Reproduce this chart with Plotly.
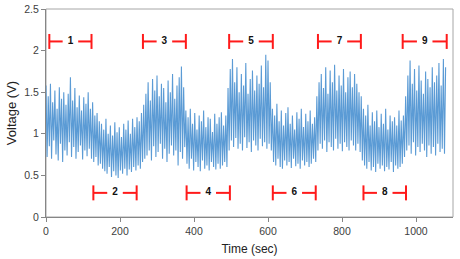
import plotly.graph_objects as go

# ---------------- data ----------------
sample_interval_s = 3
voltage = [
    # phase 1
    1.58, 0.72, 1.45, 0.85, 1.60, 0.70, 1.38, 0.92, 1.52, 0.75,
    1.30, 0.68, 1.56, 0.88, 1.42, 0.66, 1.50, 0.80, 1.35, 0.74,
    1.48, 0.90, 1.68, 0.72, 1.40, 0.84, 1.55, 0.70, 1.32, 0.78,
    1.46, 0.86, 1.28, 0.69, 1.44, 0.80, 1.36, 0.73, 1.50, 0.82,
    1.30, 0.70, 1.38, 0.66, 1.22, 0.72, 1.25, 0.62, 1.15, 0.64,
    # phase 2
    1.12, 0.58, 1.05, 0.55, 1.18, 0.52, 1.00, 0.60, 1.10, 0.48,
    0.98, 0.55, 1.14, 0.50, 1.02, 0.47, 1.08, 0.56, 0.96, 0.52,
    1.12, 0.58, 1.05, 0.50, 1.16, 0.57, 1.00, 0.54, 1.18, 0.60,
    1.08, 0.56, 1.20, 0.62, 1.15, 0.58,
    1.25, 0.66, 1.35, 0.70,
    # phase 3
    1.48, 0.74, 1.62, 0.80, 1.40, 0.68, 1.66, 0.85, 1.52, 0.72,
    1.70, 0.78, 1.45, 0.88, 1.60, 0.70, 1.55, 0.82, 1.38, 0.66,
    1.64, 0.76, 1.50, 0.86, 1.72, 0.74, 1.42, 0.80, 1.58, 0.62,
    1.68, 0.78, 1.81, 0.70, 1.56, 0.84,
    # phase 4
    1.28, 0.64, 1.20, 0.58, 1.30, 0.70, 1.12, 0.56, 1.25, 0.66,
    1.05, 0.60, 1.22, 0.55, 1.15, 0.68, 1.28, 0.58, 1.08, 0.62,
    1.20, 0.56, 1.18, 0.66, 1.02, 0.60, 1.24, 0.57, 1.12, 0.64,
    1.20, 0.58, 1.26, 0.62, 1.10, 0.66, 1.22, 0.60,
    # phase 5
    1.55, 0.80, 1.78, 0.92, 1.90, 0.84, 1.62, 0.95, 1.80, 0.82,
    1.50, 0.88, 1.72, 0.80, 1.58, 0.96, 1.85, 0.83, 1.48, 0.90,
    1.66, 0.78, 1.76, 0.92, 1.52, 0.86, 1.70, 0.80, 1.60, 0.94,
    1.82, 0.85, 1.56, 0.90, 1.95, 0.82, 1.88, 0.88, 1.62, 0.80,
    # phase 6
    1.30, 0.66, 1.22, 0.62, 1.36, 0.70, 1.15, 0.60, 1.28, 0.58,
    1.10, 0.68, 1.25, 0.62, 1.32, 0.66, 1.12, 0.59, 1.22, 0.70,
    1.05, 0.61, 1.26, 0.64, 1.18, 0.58, 1.30, 0.68, 1.08, 0.62,
    1.24, 0.66, 1.15, 0.60, 1.28, 0.64, 1.12, 0.70, 1.20, 0.66,
    # phase 7
    1.45, 0.80, 1.62, 0.88, 1.72, 0.82, 1.55, 0.92, 1.80, 0.78,
    1.48, 0.90, 1.76, 0.84, 1.62, 0.80, 1.83, 0.94, 1.52, 0.82,
    1.70, 0.88, 1.58, 0.79, 1.78, 0.90, 1.50, 0.84, 1.68, 0.80,
    1.75, 0.92, 1.56, 0.86, 1.72, 0.80, 1.60, 0.88, 1.50, 0.78,
    1.45,
    # phase 8
    0.68, 1.30, 0.62, 1.22, 0.58, 1.35, 0.66, 1.10, 0.56, 1.26,
    0.60, 1.15, 0.54, 1.28, 0.64, 1.08, 0.58, 1.24, 0.62, 1.12,
    0.55, 1.30, 0.60, 1.05, 0.57, 1.22, 0.66, 1.15, 0.54, 1.20,
    0.62, 1.10, 0.58, 1.28, 0.60, 1.16, 0.64, 1.22,
    # phase 9
    0.72, 1.45, 0.80, 1.70, 0.86, 1.88, 0.76, 1.60, 0.90, 1.78,
    0.74, 1.52, 0.84, 1.82, 0.78, 1.64, 0.88, 1.48, 0.80, 1.75,
    0.72, 1.66, 0.86, 1.56, 0.76, 1.80, 0.84, 1.62, 0.74, 1.70,
    0.88, 1.85, 0.78, 1.58, 0.82, 1.90, 0.76, 1.80,
]
time_s = [i * sample_interval_s for i in range(len(voltage))]

interval_labels = ["1", "2", "3", "4", "5", "6", "7", "8", "9"]
interval_start = [9, 128, 262, 380, 495, 613, 735, 858, 964]
interval_end = [123, 245, 378, 497, 613, 729, 851, 973, 1083]
interval_level = [2.11, 0.29, 2.11, 0.29, 2.11, 0.29, 2.11, 0.29, 2.11]

x_ticks = [0, 200, 400, 600, 800, 1000]
y_ticks = [0, 0.5, 1, 1.5, 2, 2.5]

# ---------------- figure ----------------
fig = go.Figure()
fig.add_trace(go.Scatter(
    x=time_s, y=voltage, mode="lines",
    line=dict(color="#5B9BD5", width=1.1),
    hoverinfo="skip", showlegend=False,
))

gap = 21      # half-gap around label, in seconds
cap = 0.09    # half cap height, in volts
seg_x, seg_y = [], []
for s, e, lv in zip(interval_start, interval_end, interval_level):
    mid = (s + e) / 2
    seg_x += [s, mid - gap, None, mid + gap, e, None, s, s, None, e, e, None]
    seg_y += [lv, lv, None, lv, lv, None, lv - cap, lv + cap, None, lv - cap, lv + cap, None]
fig.add_trace(go.Scatter(
    x=seg_x, y=seg_y, mode="lines",
    line=dict(color="#FF1A1A", width=2),
    hoverinfo="skip", showlegend=False,
))
fig.add_trace(go.Scatter(
    x=[(s + e) / 2 for s, e in zip(interval_start, interval_end)],
    y=interval_level, mode="text", text=interval_labels,
    textfont=dict(family="Liberation Sans", size=10, color="#111111"),
    texttemplate="<b>%{text}</b>",
    hoverinfo="skip", showlegend=False,
))

fig.add_shape(type="rect", xref="paper", yref="paper", x0=0, x1=1, y0=0, y1=1,
              line=dict(color="#A6A6A6", width=1), layer="below")

fig.update_layout(
    width=460, height=259,
    margin=dict(l=46, r=7, t=9, b=42, autoexpand=False),
    paper_bgcolor="white", plot_bgcolor="white",
    font=dict(family="Liberation Sans", size=10, color="#404040"),
)
fig.update_xaxes(
    range=[0, 1100], tickvals=x_ticks, showgrid=False, zeroline=False,
    showline=True, linecolor="#868686", linewidth=1, automargin=False,
    ticks="outside", ticklen=4, tickcolor="#868686",
    tickfont=dict(size=10.5, color="#404040"),
    title=dict(text="Time (sec)", font=dict(size=12, color="#222222"), standoff=9),
)
fig.update_yaxes(
    range=[0, 2.5], tickvals=y_ticks, showgrid=False, zeroline=False,
    showline=True, linecolor="#868686", linewidth=1, automargin=False,
    ticks="outside", ticklen=4, tickcolor="#868686",
    tickfont=dict(size=10.5, color="#404040"),
    title=dict(text="Voltage (V)", font=dict(size=13, color="#222222"), standoff=4),
)

fig.write_html("out.html", config={"displayModeBar": False},
               post_script="document.body.style.margin='0';")
